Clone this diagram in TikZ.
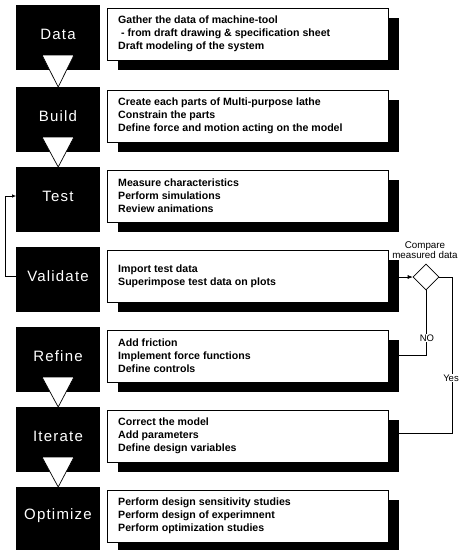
\documentclass[tikz,border=0pt]{standalone}
\usepackage{fontspec}
\setmainfont{Liberation Sans}
\newfontfamily\lblfont[LetterSpace=8]{Liberation Sans}
\usetikzlibrary{shapes.geometric,arrows.meta}
\tikzset{
  blackbox/.style={fill=black, draw=none, minimum width=84pt, minimum height=65pt, inner sep=0pt, anchor=north west},
  boxlabel/.style={text=white, inner sep=0pt, font=\lblfont\fontsize{15}{15}\selectfont},
  textbox/.style={draw=black, line width=0.6pt, fill=white, minimum width=281pt, minimum height=52pt, anchor=north west, inner sep=0pt},
  shadowbox/.style={fill=black, draw=none, minimum width=281pt, minimum height=52pt, anchor=north west, inner sep=0pt},
  desc/.style={font=\bfseries\fontsize{10.6}{13}\selectfont, align=left, anchor=west, inner sep=0pt},
  tri/.style={draw=black, fill=white, line width=0.7pt, line join=miter},
  conn/.style={draw=black, line width=0.6pt},
  small/.style={font=\fontsize{9.5}{10.5}\selectfont, inner sep=1pt}
}
\newcommand{\stagerow}[4]{%
  \node[shadowbox] (s#1) at (118,#2+13) {};
  \node[textbox] (t#1) at (107,#2+3) {};
  \node[blackbox] (b#1) at (16,#2) {};
  \node[boxlabel] (l#1) at (58,#2+29) {#3};
  \node[desc] (d#1) at (118,#2+29) {#4};
}
\begin{document}
\begin{tikzpicture}[x=1pt,y=-1pt]
\useasboundingbox[fill=white] (0,0) rectangle (459,550);

\stagerow{Data}{5}{Data}{Gather the data of machine-tool\\\ - from draft drawing \& specification sheet\\Draft modeling of the system}
\stagerow{Build}{87}{Build}{Create each parts of Multi-purpose lathe\\Constrain the parts\\Define force and motion acting on the model}
\stagerow{Test}{167}{Test}{Measure characteristics\\Perform simulations\\Review animations}
\stagerow{Val}{247}{Validate}{Import test data\\Superimpose test data on plots}
\stagerow{Ref}{327}{Refine}{Add friction\\Implement force functions\\Define controls}
\stagerow{Iter}{407}{Iterate}{Correct the model\\Add parameters\\Define design variables}
\stagerow{Opt}{487}{Optimize}{Perform design sensitivity studies\\Perform design of experimnent\\Perform optimization studies}

% flow triangles
\draw[tri] (42,55) -- (74,55) -- (bBuild.north) -- cycle;
\draw[tri] (42,137) -- (74,137) -- (bTest.north) -- cycle;
\draw[tri] (42,377) -- (74,377) -- (bIter.north) -- cycle;
\draw[tri] (42,457) -- (74,457) -- (bOpt.north) -- cycle;

% feedback loop Validate -> Test
\coordinate (loopX) at (5,0);
\draw[conn,-{Latex[length=4pt,width=3.5pt]}] (lVal.center -| bVal.west) -- (lVal.center -| loopX) |- (lTest.center -| bTest.west);

% compare decision
\node[diamond, draw=black, line width=0.6pt, fill=white, minimum width=26pt, minimum height=26pt, inner sep=0pt] (cmp) at (426,277) {};
\node[small, align=center, font=\fontsize{9.8}{10.5}\selectfont] (cmpl) at (425,250) {Compare\\measured data};
\draw[conn,-{Latex[length=5pt,width=4pt]}] (cmp.west -| sVal.east) -- (cmp.west);

\coordinate (noIn) at (399,355);
\draw[conn] (cmp.south) |- (noIn);
\node[small, fill=white] (nolbl) at (427,338) {NO};

\coordinate (yesTop) at (452,277);
\coordinate (yesIn) at (399,433);
\draw[conn] (cmp.east) -- (yesTop) |- (yesIn);
\node[small, fill=white] (yeslbl) at (451,378) {Yes};
\end{tikzpicture}
\end{document}
